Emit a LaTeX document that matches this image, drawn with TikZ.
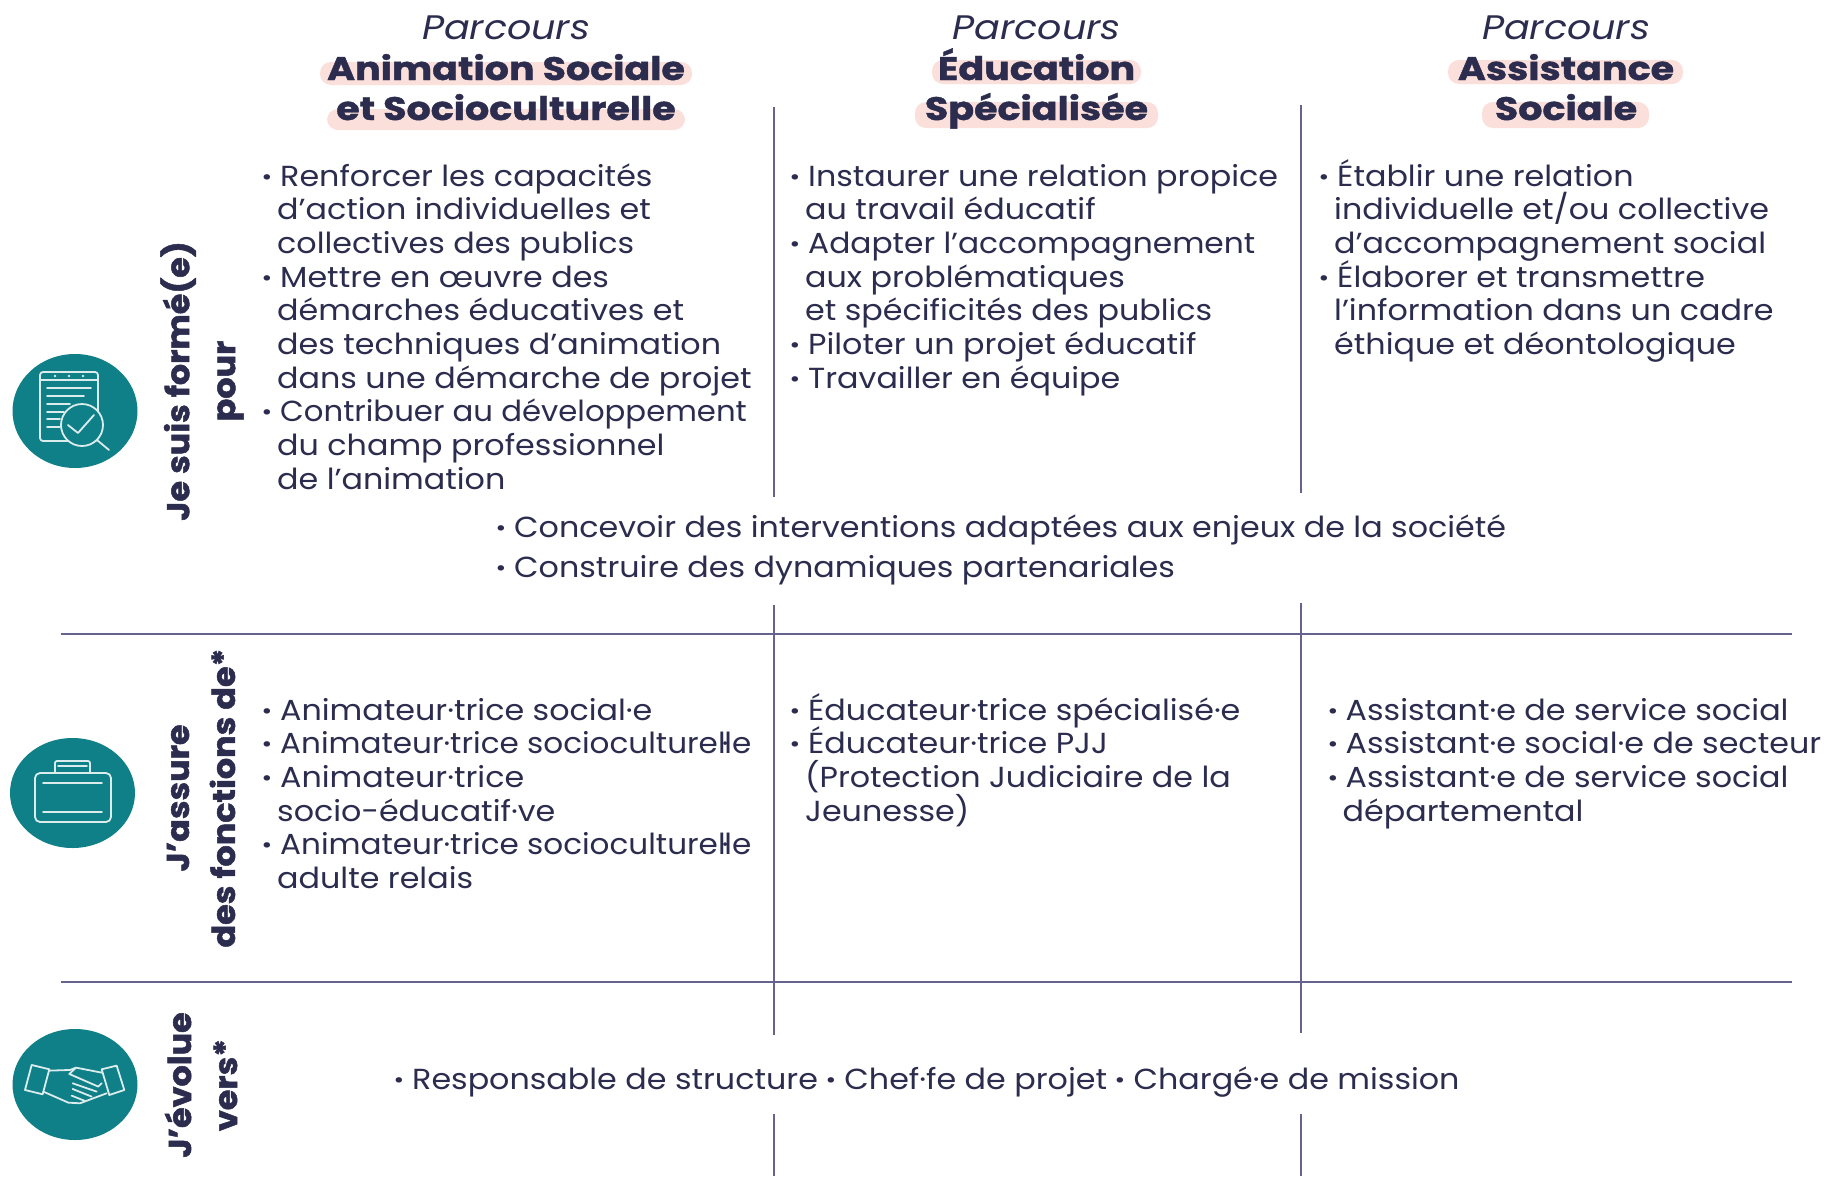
\documentclass[tikz,border=0pt]{standalone}
\usepackage{fontspec}
\setmainfont{Poppins}
\newfontfamily\bodyf[FakeStretch=1.095]{Poppins}
\newfontfamily\headf[FakeStretch=1.12]{Poppins}
\newfontfamily\headbf[FakeStretch=1.17,BoldFeatures={FakeBold=1.2}]{Poppins}
\newfontfamily\sidef[FakeStretch=1.06,BoldFeatures={FakeBold=1.6}]{Poppins}
\usetikzlibrary{shapes.geometric}
\definecolor{inkc}{HTML}{2B2C4E}
\definecolor{rulec}{HTML}{67638F}
\definecolor{tealc}{HTML}{0F7F88}
\definecolor{hlc}{HTML}{FBDFDA}
\newcommand{\tightls}{\lineskiplimit -100pt\relax}
\newcommand{\bl}{\hspace*{3pt}\llap{\textbf{·}\hspace{8pt}}}
\newcommand{\fl}{\vphantom{Éj}\bl}
\newcommand{\tdot}{\kern-4pt·\kern-4pt}
\newcommand{\sqz}[2]{\scalebox{#1}[1]{#2}}
\tikzset{
  bodytxt/.style={anchor=north west,inner sep=0pt,align=left,text=inkc,font=\fontsize{29}{33.7}\selectfont\bodyf\tightls},
  singletxt/.style={anchor=base west,inner sep=0pt,text=inkc,font=\fontsize{29}{33.7}\selectfont\bodyf},
  headit/.style={anchor=base,inner sep=0pt,text=inkc,font=\fontsize{34}{35}\selectfont\headf\itshape},
  headbd/.style={anchor=base,inner sep=0pt,text=inkc,font=\fontsize{32.5}{35}\selectfont\headbf\bfseries},
  sidetxt/.style={inner sep=0pt,rotate=90,align=center,text=inkc,font=\fontsize{31.5}{46}\selectfont\sidef\bfseries},
  ruleline/.style={draw=rulec,line width=2.2pt},
  hlbox/.style={fill=hlc,rounded corners=11pt},
  discshape/.style={ellipse,fill=tealc,inner sep=0pt},
  ico/.style={draw=white!85!tealc,line width=1.8pt,line join=round,line cap=round}
}
\begin{document}
\begin{tikzpicture}[x=1pt,y=-1pt]
\useasboundingbox (0,0) rectangle (1824,1176);
\fill[white] (0,0) rectangle (1824,1176);
% highlights
\fill[hlbox] (320,62) rectangle (692,85);
\fill[hlbox] (327,109) rectangle (685,130);
\fill[hlbox] (932,60) rectangle (1141,84);
\fill[hlbox] (915,102) rectangle (1158,128);
\fill[hlbox] (1448,60) rectangle (1683,84);
\fill[hlbox] (1482,102) rectangle (1649,128);
% headers
\node[headit] (h1) at (506,39.5) {Parcours};
\node[headbd] (h1a) at (506,80) {Animation Sociale};
\node[headbd] (h1b) at (506,120) {et Socioculturelle};
\node[headit] (h2) at (1036.5,39.5) {Parcours};
\node[headbd] (h2a) at (1036.5,80) {Éducation};
\node[headbd] (h2b) at (1036.5,120) {Spécialisée};
\node[headit] (h3) at (1566,39.5) {Parcours};
\node[headbd] (h3a) at (1566,80) {Assistance};
\node[headbd] (h3b) at (1566,120) {Sociale};
% rules
\draw[ruleline] (773.6,107) -- (773.6,497);
\draw[ruleline] (773.6,605) -- (773.6,1035);
\draw[ruleline] (773.6,1114) -- (773.6,1176);
\draw[ruleline] (1300.6,105) -- (1300.6,493);
\draw[ruleline] (1300.6,603) -- (1300.6,1033);
\draw[ruleline] (1300.6,1114) -- (1300.6,1176);
\draw[ruleline] (60.5,634) -- (1791.5,634);
\draw[ruleline] (60.5,982) -- (1791.5,982);
% row 1
\node[bodytxt] (r1a) at (277,159) {\fl Renforcer les capacités\\d’action individuelles et\\collectives des publics\\\bl Mettre en œuvre des\\démarches éducatives et\\des techniques d’animation\\dans une démarche de projet\\\bl \sqz{0.968}{Contribuer au développement}\\du champ professionnel\\de l’animation};
\node[bodytxt] (r1b) at (805,159) {\fl Instaurer une relation propice\\au travail éducatif\\\bl \sqz{0.985}{Adapter l’accompagnement}\\aux problématiques\\et spécificités des publics\\\bl Piloter un projet éducatif\\\bl Travailler en équipe};
\node[bodytxt] (r1c) at (1334,159) {\fl Établir une relation\\individuelle et/ou collective\\d’accompagnement social\\\bl Élaborer et transmettre\\l’information dans un cadre\\éthique et déontologique};
\node[singletxt] (m1) at (511,537.5) {\bl Concevoir des interventions adaptées aux enjeux de la société};
\node[singletxt] (m2) at (511,577) {\bl Construire des dynamiques partenariales};
% row 2
\node[bodytxt] (r2a) at (277,693) {\fl Animateur·trice social·e\\\bl \sqz{0.978}{Animateur·trice socioculturel\tdot le}\\\bl Animateur·trice\\socio-éducatif·ve\\\bl \sqz{0.978}{Animateur·trice socioculturel\tdot le}\\adulte relais};
\node[bodytxt] (r2b) at (805,693) {\fl Éducateur·trice spécialisé·e\\\bl Éducateur·trice PJJ\\(Protection Judiciaire de la\\Jeunesse)};
\node[bodytxt] (r2c) at (1342.5,693) {\fl Assistant·e de service social\\\bl Assistant·e social·e de secteur\\\bl Assistant·e de service social\\départemental};
% row 3
\node[singletxt] (r3) at (409,1089) {\bl Responsable de structure \textbf{·} Chef·fe de projet \textbf{·} Chargé·e de mission};
% side labels
\node[sidetxt] (s1) at (202,381) {Je suis formé(e)\\pour};
\node[sidetxt] (s2) at (201,798) {J’assure\\des fonctions de*};
\node[sidetxt] (s3) at (201,1085) {J’évolue\\vers*};
% discs
\node[discshape,minimum width=125pt,minimum height=114pt] (d1) at (75,411) {};
\node[discshape,minimum width=125pt,minimum height=110pt] (d2) at (72.5,793) {};
\node[discshape,minimum width=125pt,minimum height=111pt] (d3) at (75,1084.5) {};
% icon 1
\draw[ico,rounded corners=3pt] (40,372) rectangle (98,441);
\draw[ico] (40,380) -- (98,380);
\fill[white!85!tealc] (55,376) circle (1.3) (69,376) circle (1.3) (83,376) circle (1.3);
\draw[ico] (47,388) -- (91,388) (47,396) -- (84,396) (47,404) -- (70,404) (47,412) -- (64,412) (47,419) -- (60,419) (47,427) -- (60,427);
\draw[ico,fill=tealc] (82,425) circle (21);
\draw[ico] (97,440) -- (109,450);
\draw[ico] (68,425) -- (78,433) -- (94,415);
% icon 2
\draw[ico,rounded corners=5pt] (35,773) rectangle (111,822);
\draw[ico,rounded corners=2pt] (55,773) -- (55,761) -- (90,761) -- (90,773);
\draw[ico] (58,766) -- (87,766) (43,783) -- (102,783) (43,812) -- (102,812);
% icon 3
\begin{scope}[x=0.3333pt,y=-0.3333pt,yshift=-700pt]
\draw[ico] (95,1095) -- (148,1108) -- (128,1183) -- (75,1170) -- cycle;
\draw[ico] (305,1108) -- (350,1097) -- (373,1170) -- (328,1185) -- cycle;
\draw[ico] (148,1112) -- (210,1110) -- (228,1103) -- (305,1118);
\draw[ico] (130,1175) -- (205,1208) -- (240,1210) -- (320,1180);
\draw[ico] (228,1103) -- (208,1122) -- (295,1160) -- (305,1150);
\draw[ico] (218,1150) -- (290,1175);
\draw[ico] (218,1167) -- (275,1190);
\draw[ico] (215,1187) -- (255,1203);
\end{scope}
\end{tikzpicture}
\end{document}
